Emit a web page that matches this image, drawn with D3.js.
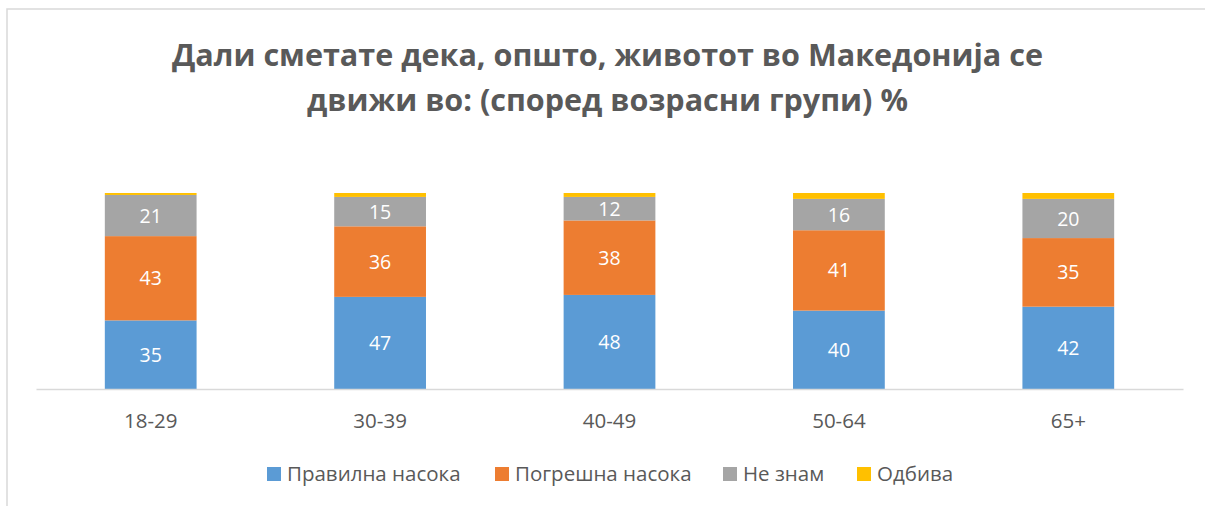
<!DOCTYPE html>
<html>
<head>
<meta charset="utf-8">
<script src="https://cdn.jsdelivr.net/npm/d3@7"></script>
<style>
  body { margin: 0; background: #fff; }
  svg { display: block; font-family: "Open Sans", "Noto Sans", sans-serif; }
</style>
</head>
<body>
<div id="chart"></div>
<script>
// data
var groups = ["18-29", "30-39", "40-49", "50-64", "65+"];
var seriesNames = ["Правилна насока", "Погрешна насока", "Не знам", "Одбива"];
var pravilna = [35, 47, 48, 40, 42];
var pogresna = [43, 36, 38, 41, 35];
var neZnam = [21, 15, 12, 16, 20];
var odbiva = [1, 2, 2, 3, 3];
var colors = ["#5b9bd5", "#ed7d31", "#a5a5a5", "#ffc000"];
var titleLines = ["Дали сметате дека, општо, животот во Македонија се", "движи во: (според возрасни групи) %"];

var width = 1205, height = 506;

var rows = groups.map(function(g, i) {
    var r = {group: g};
    r[seriesNames[0]] = pravilna[i];
    r[seriesNames[1]] = pogresna[i];
    r[seriesNames[2]] = neZnam[i];
    r[seriesNames[3]] = odbiva[i];
    return r;
});
var stacked = d3.stack().keys(seriesNames)(rows);

var svg = d3.select("#chart").append("svg")
    .attr("width", width)
    .attr("height", height);

// chart area frame (cut off at right and bottom)
svg.append("rect")
    .attr("x", 7).attr("y", 9)
    .attr("width", width + 20).attr("height", height + 20)
    .attr("fill", "#fff")
    .attr("stroke", "#d9d9d9")
    .attr("stroke-width", 1.5);

var xScale = d3.scaleBand()
    .domain(groups)
    .range([36, 1183])
    .paddingInner(0.6)
    .paddingOuter(0.3);

var yScale = d3.scaleLinear()
    .domain([0, 100])
    .range([389, 193]);

// title, fitted to the width of the original lines
var titleWidths = [871, 601];
var titleY = [66, 111];
titleLines.forEach(function(t, i) {
    var txt = svg.append("text")
        .attr("x", 607.5)
        .attr("y", titleY[i])
        .attr("text-anchor", "middle")
        .attr("font-weight", "bold")
        .attr("font-size", "30px")
        .attr("fill", "#595959")
        .text(t);
    var w = txt.node().getComputedTextLength();
    txt.attr("font-size", (30 * titleWidths[i] / w).toFixed(2) + "px");
});

// bars
var layer = svg.selectAll(".layer")
    .data(stacked)
    .enter().append("g")
    .attr("class", "layer")
    .attr("fill", function(d, i) { return colors[i]; });

layer.selectAll("rect")
    .data(function(d) { return d; })
    .enter().append("rect")
    .attr("x", function(d) { return xScale(d.data.group); })
    .attr("y", function(d) { return yScale(d[1]); })
    .attr("width", xScale.bandwidth())
    .attr("height", function(d) { return yScale(d[0]) - yScale(d[1]); });

// value labels (not for the tiny yellow bit)
stacked.slice(0, 3).forEach(function(s) {
    svg.append("g").selectAll("text")
        .data(s)
        .enter().append("text")
        .attr("x", function(d) { return xScale(d.data.group) + xScale.bandwidth() / 2; })
        .attr("y", function(d) { return (yScale(d[0]) + yScale(d[1])) / 2; })
        .attr("dy", "0.36em")
        .attr("text-anchor", "middle")
        .attr("font-size", "19.5px")
        .attr("fill", "#fff")
        .text(function(d) { return d[1] - d[0]; });
});

// x axis
var xAxis = svg.append("g")
    .attr("class", "x axis")
    .attr("transform", "translate(0,389)")
    .call(d3.axisBottom(xScale).tickSize(0).tickPadding(24));
xAxis.select(".domain").attr("stroke", "#d9d9d9").attr("stroke-width", 1.5);
xAxis.selectAll("text")
    .attr("font-size", "20.5px")
    .attr("font-family", "\"Open Sans\", sans-serif")
    .attr("fill", "#595959");

// legend
var legendX = [267, 495, 723, 857];
var legend = svg.selectAll(".legend")
    .data(seriesNames)
    .enter().append("g")
    .attr("class", "legend")
    .attr("transform", function(d, i) { return "translate(" + legendX[i] + ",467)"; });
legend.append("rect")
    .attr("width", 14).attr("height", 14)
    .attr("fill", function(d, i) { return colors[i]; });
legend.append("text")
    .attr("x", 20)
    .attr("y", 14)
    .attr("font-size", "20.5px")
    .attr("fill", "#595959")
    .text(function(d) { return d; });
</script>
</body>
</html>
